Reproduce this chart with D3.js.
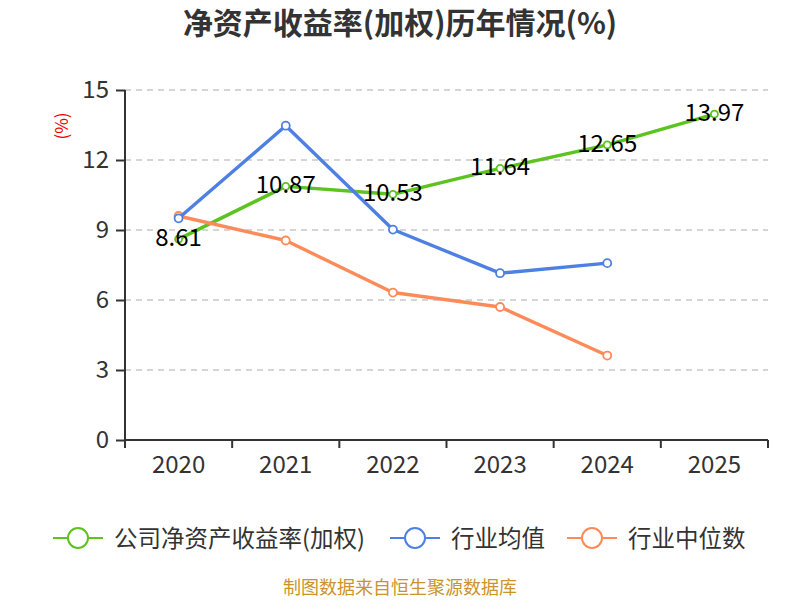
<!DOCTYPE html>
<html><head><meta charset="utf-8">
<script src="https://cdn.jsdelivr.net/npm/d3@7"></script>
<style>body{margin:0;background:#fff}svg{display:block}text{font-family:"Noto Sans CJK SC","Noto Sans",sans-serif}</style>
</head><body><svg id="c" width="800" height="600"></svg>
<script>
const years = ["2020","2021","2022","2023","2024","2025"];
const company = [8.61, 10.87, 10.53, 11.64, 12.65, 13.97];
const industryAvg = [9.5, 13.47, 9.02, 7.15, 7.58, null];
const industryMedian = [9.6, 8.55, 6.32, 5.7, 3.62, null];
const yTicks = [0, 3, 6, 9, 12, 15];
const seriesNames = ["公司净资产收益率(加权)", "行业均值", "行业中位数"];
const colors = ["#5cc31f", "#4e80e3", "#fd8b5a"];

const svg = d3.select("#c");
const L = 125, R = 768, T = 90, B = 440;
const x = d3.scaleBand().domain(years).range([L, R]);
const y = d3.scaleLinear().domain([0, 15]).range([B, T]);
const cx = d => x(d) + x.bandwidth() / 2;
const numFont = "\"Noto Sans\",sans-serif";

svg.append("text").attr("x", 400).attr("y", 34).attr("text-anchor", "middle")
  .attr("font-size", 30).attr("font-weight", "bold").attr("fill", "#333").text("净资产收益率(加权)历年情况(%)");

// grid
svg.append("g").selectAll("line").data(yTicks.filter(d => d > 0)).join("line")
  .attr("x1", L).attr("x2", R).attr("y1", d => y(d)).attr("y2", d => y(d))
  .attr("stroke", "#c8c8c8").attr("stroke-width", 1.3).attr("stroke-dasharray", "6,5");

// y axis
const ya = svg.append("g").attr("transform", `translate(${L},0)`)
  .call(d3.axisLeft(y).tickValues(yTicks).tickSize(9).tickPadding(7));
ya.select(".domain").attr("stroke", "#333").attr("stroke-width", 2).attr("d", `M0,${T}V${B}`);
ya.selectAll(".tick line").attr("stroke", "#333").attr("stroke-width", 2);
ya.selectAll(".tick text").attr("font-size", 24).attr("fill", "#333").attr("font-family", numFont);

// x axis
const xa = svg.append("g").attr("transform", `translate(0,${B})`)
  .call(d3.axisBottom(x).tickSize(0).tickPadding(16));
xa.select(".domain").attr("stroke", "#333").attr("stroke-width", 2).attr("d", `M${L},0H${R}`);
xa.selectAll(".tick text").attr("font-size", 24).attr("fill", "#333").attr("font-family", numFont);
const bounds = years.map(d => x(d)).concat([R]);
svg.append("g").selectAll("line").data(bounds).join("line")
  .attr("x1", d => d).attr("x2", d => d).attr("y1", B).attr("y2", B + 8)
  .attr("stroke", "#333").attr("stroke-width", 2);

svg.append("text").attr("transform", "translate(68,126) rotate(-90)").attr("text-anchor", "middle")
  .attr("font-size", 17).attr("fill", "#e00").text("(%)");

const allSeries = [company, industryAvg, industryMedian];
const line = d3.line().defined(d => d.v != null).x(d => cx(d.k)).y(d => y(d.v));
[0, 2, 1].forEach(i => {
  const data = years.map((k, j) => ({k, v: allSeries[i][j]}));
  svg.append("path").datum(data).attr("d", line).attr("fill", "none")
    .attr("stroke", colors[i]).attr("stroke-width", 3.4).attr("stroke-linejoin", "round");
  svg.append("g").selectAll("circle").data(data.filter(d => d.v != null)).join("circle")
    .attr("cx", d => cx(d.k)).attr("cy", d => y(d.v)).attr("r", i === 0 ? 3.5 : 4)
    .attr("fill", "#fff").attr("stroke", colors[i]).attr("stroke-width", 1.8);
});

// labels for company
svg.append("g").selectAll("text").data(company).join("text")
  .attr("x", (d, j) => cx(years[j])).attr("y", d => y(d) + 7).attr("text-anchor", "middle")
  .attr("font-size", 24).attr("fill", "#000").attr("font-family", numFont).text(d => d.toFixed(2));

// legend
const legX = [53, 390, 567];
const lg = svg.append("g");
seriesNames.forEach((n, i) => {
  const g = lg.append("g").attr("transform", `translate(${legX[i]},538)`);
  g.append("line").attr("x1", 0).attr("x2", 50).attr("stroke", colors[i]).attr("stroke-width", 2);
  g.append("circle").attr("cx", 25).attr("r", 10).attr("fill", "#fff").attr("stroke", colors[i]).attr("stroke-width", 2);
  g.append("text").attr("x", 61).attr("y", 8.5).attr("font-size", 23.5).attr("fill", "#333").text(n);
});

svg.append("text").attr("x", 400).attr("y", 594).attr("text-anchor", "middle")
  .attr("font-size", 18).attr("fill", "#c9942a").text("制图数据来自恒生聚源数据库");
</script></body></html>
